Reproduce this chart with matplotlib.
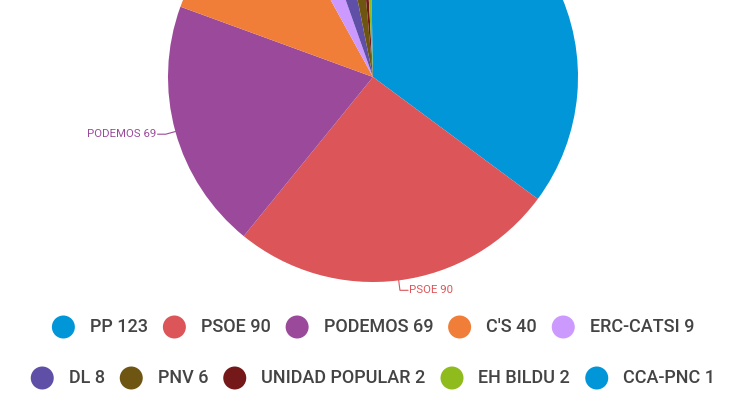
import numpy as np
import matplotlib.pyplot as plt
from matplotlib.patches import Circle

parties = ['PP', 'PSOE', 'PODEMOS', "C'S", 'ERC-CATSI', 'DL', 'PNV',
           'UNIDAD POPULAR', 'EH BILDU', 'CCA-PNC']
seats = [123, 90, 69, 40, 9, 8, 6, 2, 2, 1]
colors = ['#0096d8', '#dc5558', '#9b4a9b', '#f07d38', '#cc99ff',
          '#5f4fa6', '#6e5612', '#741819', '#8fbb1c', '#0096d8']
legend_rows = [parties[:5], parties[5:]]

plt.rcParams['font.family'] = ['Roboto', 'DejaVu Sans']

W, H = 730, 400
fig = plt.figure(figsize=(W / 100, H / 100), dpi=100)
ax = fig.add_axes([0, 0, 1, 1])

cx, cy, r = 373, H - 77, 205
wedges, _ = ax.pie(seats, colors=colors, startangle=90, counterclock=False,
                   radius=r, center=(cx, cy), frame=True)
ax.set_xlim(0, W)
ax.set_ylim(0, H)
ax.set_aspect('equal')
ax.axis('off')

# slice labels with leader lines (only those that land inside the canvas)
for w, name, n, c in zip(wedges, parties, seats, colors):
    ang = np.deg2rad((w.theta1 + w.theta2) / 2)
    ex, ey = cx + r * np.cos(ang), cy + r * np.sin(ang)
    ox, oy = cx + (r + 10) * np.cos(ang), cy + (r + 10) * np.sin(ang)
    if not (8 < oy < H - 8):
        continue
    s = 1 if np.cos(ang) >= 0 else -1
    hx = ox + s * 8
    ax.plot([ex, ox, hx], [ey, oy, oy], color=c, lw=0.8)
    ax.text(hx + s * 1.5, oy, f'{name} {n}', color=c, fontsize=8.2,
            ha='left' if s > 0 else 'right', va='center')

# legend, two centred rows
fig.canvas.draw()
rend = fig.canvas.get_renderer()
mr, gap_in, gap_out = 11.5, 15, 15
row_y = [H - 327, H - 378]
lookup = dict(zip(parties, zip(seats, colors)))
for names, y in zip(legend_rows, row_y):
    items = []
    for nm in names:
        n, c = lookup[nm]
        t = ax.text(0, y, f'{nm} {n}', fontsize=13, color='#444444',
                    fontweight='medium', ha='left', va='center')
        bb = t.get_window_extent(rend)
        items.append((t, c, bb.width))
    total = sum(2 * mr + gap_in + wd for _, _, wd in items) + gap_out * (len(items) - 1)
    x = cx - total / 2
    for t, c, wd in items:
        ax.add_patch(Circle((x + mr, y), mr, color=c, lw=0))
        t.set_x(x + 2 * mr + gap_in)
        x += 2 * mr + gap_in + wd + gap_out

fig.savefig('out.png', dpi=100)
